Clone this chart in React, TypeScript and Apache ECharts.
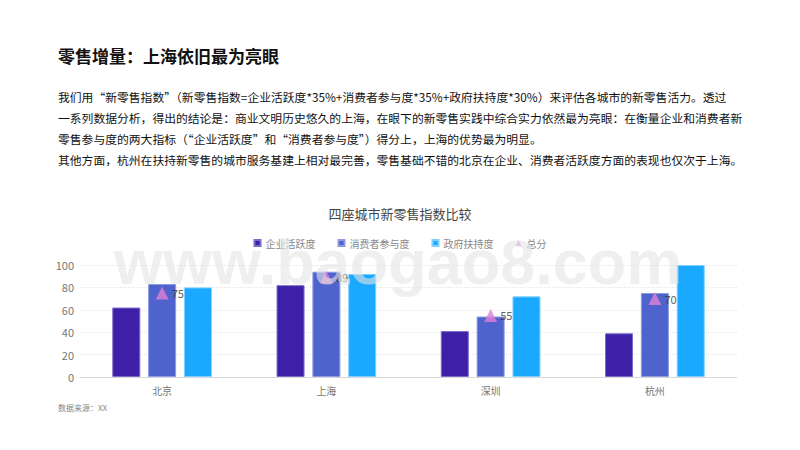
import React, { useEffect, useRef } from "react";
import * as echarts from "echarts";

const cities = ["北京", "上海", "深圳", "杭州"];
const enterprise = [62, 82, 41, 39];
const consumer = [83, 94, 54, 75];
const government = [80, 92, 72, 100];
const total = [75, 89, 55, 70];
const yTicks = [0, 20, 40, 60, 80, 100];

const heading = "零售增量：上海依旧最为亮眼";
const paragraphLines = [
  "我们用“新零售指数”（新零售指数=企业活跃度*35%+消费者参与度*35%+政府扶持度*30%）来评估各城市的新零售活力。透过",
  "一系列数据分析，得出的结论是：商业文明历史悠久的上海，在眼下的新零售实践中综合实力依然最为亮眼：在衡量企业和消费者新",
  "零售参与度的两大指标（“企业活跃度”和“消费者参与度”）得分上，上海的优势最为明显。",
  "其他方面，杭州在扶持新零售的城市服务基建上相对最完善，零售基础不错的北京在企业、消费者活跃度方面的表现也仅次于上海。",
];
const chartTitle = "四座城市新零售指数比较";
const sourceNote = "数据来源：XX";
const watermark = "www.baogao8.com";

const FONT = "'Noto Sans CJK SC', 'Noto Sans', sans-serif";

export default function App() {
  const ref = useRef<HTMLDivElement>(null);
  useEffect(() => {
    if (!ref.current) return;
    const chart = echarts.init(ref.current, undefined, { renderer: "svg" });
    const barCommon = {
      type: "bar",
      barWidth: 28,
      barGap: "28%",
    };
    chart.setOption({
      animation: false,
      backgroundColor: "#ffffff",
      textStyle: { fontFamily: FONT },
      title: {
        text: chartTitle,
        left: "center",
        top: 202,
        textStyle: { fontSize: 13, fontWeight: "normal", color: "#444", fontFamily: FONT },
      },
      legend: {
        top: 233,
        left: "center",
        itemWidth: 6,
        itemHeight: 6,
        itemGap: 22,
        textStyle: { fontSize: 10, color: "#888", fontFamily: FONT },
        data: [
          { name: "企业活跃度", icon: "rect" },
          { name: "消费者参与度", icon: "rect" },
          { name: "政府扶持度", icon: "rect" },
          { name: "总分", icon: "triangle" },
        ],
      },
      grid: { left: 80, right: 63, top: 265, height: 112 },
      xAxis: {
        type: "category",
        data: cities,
        axisLine: { lineStyle: { color: "#d8d8d8" } },
        axisTick: { show: false },
        axisLabel: { fontSize: 10, color: "#777", margin: 8 },
      },
      yAxis: {
        type: "value",
        min: yTicks[0],
        max: yTicks[yTicks.length - 1],
        interval: 20,
        axisLine: { show: false },
        axisTick: { show: false },
        axisLabel: { fontSize: 11, color: "#777", margin: 6 },
        splitLine: { lineStyle: { color: "#e6e6e6", type: "dotted" } },
      },
      series: [
        {
          ...barCommon,
          name: "企业活跃度",
          data: enterprise,
          itemStyle: { color: "#3e1fa8", borderColor: "#7a6cc8", borderWidth: 1 },
        },
        {
          ...barCommon,
          name: "消费者参与度",
          data: consumer,
          itemStyle: { color: "#4e63cc", borderColor: "#8c9ae0", borderWidth: 1 },
        },
        {
          ...barCommon,
          name: "政府扶持度",
          data: government,
          itemStyle: { color: "#1aa9ff", borderColor: "#7fd0ff", borderWidth: 1 },
        },
        {
          type: "scatter",
          name: "总分",
          data: total,
          symbol: "triangle",
          symbolSize: 13,
          itemStyle: { color: "#e07fd6" },
          label: {
            show: true,
            position: "right",
            distance: 3,
            fontSize: 11,
            color: "#333",
          },
          z: 5,
        },
      ],
      graphic: [
        {
          type: "text",
          left: 58,
          top: 47,
          style: {
            text: heading,
            fontSize: 17,
            fontWeight: "bold",
            fill: "#111",
            fontFamily: FONT,
          },
        },
        ...paragraphLines.map((line, i) => ({
          type: "text",
          left: 58,
          top: 91 + i * 21,
          style: {
            text: line,
            fontSize: 11.8,
            fill: "#111",
            fontFamily: FONT,
          },
        })),
        {
          type: "text",
          left: 58,
          top: 403,
          style: { text: sourceNote, fontSize: 8, fill: "#888", fontFamily: FONT },
        },
        {
          type: "text",
          left: 114,
          top: 230,
          z: 100,
          silent: true,
          style: {
            text: watermark,
            fontSize: 63,
            fontWeight: "bold",
            fill: "rgba(228,228,228,0.6)",
            fontFamily: "'Liberation Sans', Arial, sans-serif",
          },
        },
      ],
    });
    return () => chart.dispose();
  }, []);
  return (
    <div
      ref={ref}
      style={{ position: "fixed", left: 0, top: 0, width: 800, height: 450 }}
    />
  );
}
